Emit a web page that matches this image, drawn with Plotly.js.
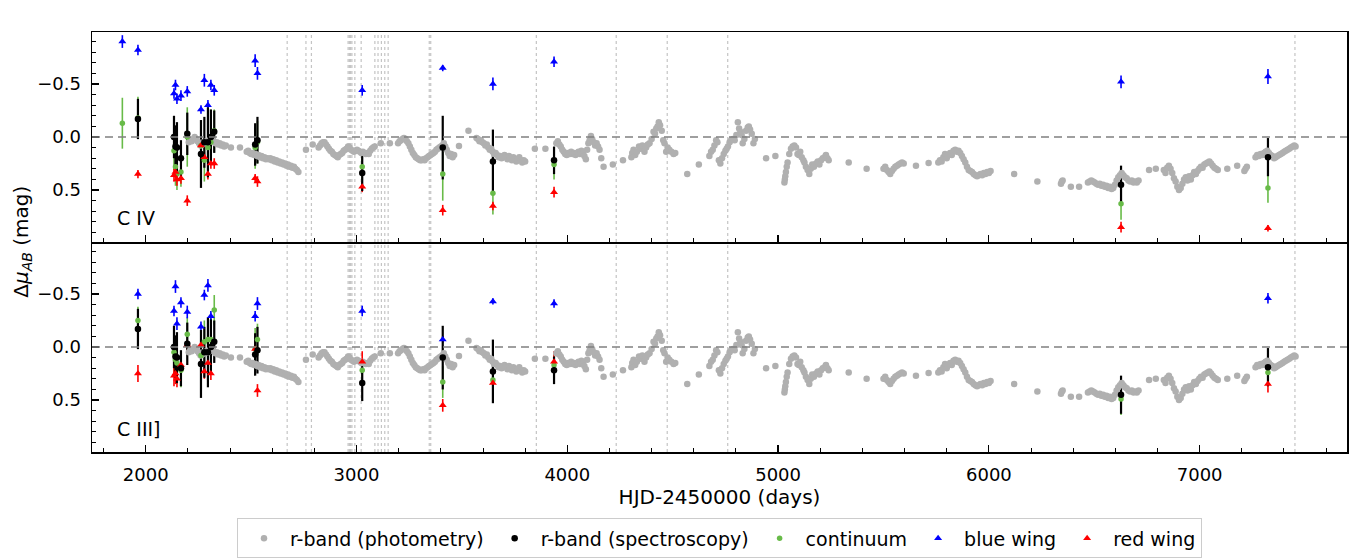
<!DOCTYPE html>
<html><head><meta charset="utf-8">
<script src="https://cdn.plot.ly/plotly-3.0.1.min.js"></script>
<style>html,body{margin:0;padding:0;background:#fff}#chart{width:1360px;height:560px}</style>
</head><body><div id="chart"></div>
<script>
// ---------- r-band photometry (same in both panels) ----------
const photHJD = [
2204,2211,2218,2225,2232,2239,2246,2253,2260,2267,2274,2281,2288,2295,2302,2309,2316,2323,2330,2337,2344,2351,2358,2365,2372,2380,
2404,2447,
2479,2486,2493,2500,2507,2514,2521,2528,2535,2542,2549,2556,2563,2570,2577,2584,2591,2598,2605,2612,2619,2626,2633,2640,2647,2654,2661,2668,2675,2682,2689,2696,2703,2710,2717,2724,
2760,2792,
2820,2827,2834,2841,2848,2855,2862,2869,2876,2883,2890,2897,2904,2911,2918,2925,2932,2939,2946,2953,2960,2967,2974,2981,2988,2995,3002,3009,3016,3023,3030,3037,3044,3051,3058,3065,3072,3079,3086,
3115,3158,
3197,3204,3211,3218,3225,3232,3239,3246,3253,3260,3267,3274,3281,3288,3295,3302,3309,3316,3323,3330,3337,3344,3351,3358,3365,3372,3379,3386,3393,3400,3407,3414,3421,3428,3435,3442,3449,3456,3463,
3486,3531,
3569,3576,3583,3590,3597,3604,3611,3618,3625,3632,3639,3646,3653,3660,3667,3674,3681,3688,3695,3702,3709,3716,3723,3730,3737,3744,3751,3758,3765,3772,3779,3786,3793,3800,
3846,3896,
3948,3955,3962,3969,3976,3983,3990,3997,4004,4011,4018,4025,4032,4039,4046,4053,4060,4067,4074,4081,4088,4094,4100,4106,4112,4118,4125,4132,4139,4146,4153,4161,4172,
4216,4264,
4304,4308,4314,4322,4330,4340,4348,4356,4366,4374,4382,4390,4400,4409,4416,4422,4428,4434,4440,4448,4455,4461,4469,4476,4484,4494,4504,4512,
4569,4624,
4674,4682,4690,4698,4706,4712,4719,4726,4734,4742,4750,4756,4762,4770,4777,4786,4794,4802,4809,4815,4821,4827,4832,4840,4848,4856,4861,4867,4875,4883,4890,
4943,4987,
5030,5032,5034,5037,5041,5045,5053,5061,5069,5077,5085,5092,5098,5105,5112,5120,5125,5132,5140,5148,5155,5162,5170,5180,5188,5196,5204,5212,5220,5227,5234,5240,
5335,5420,
5500,5508,5516,5524,5532,5540,5548,5556,5564,5572,5580,5588,5596,
5654,5714,
5760,5768,5776,5784,5792,5800,5808,5816,5824,5832,5840,5848,5856,5864,5872,5880,5888,5896,5904,5912,5920,5928,5936,5944,5952,5960,5968,5976,5984,5992,6000,6008,
6120,6230,
6342,6346,6350,6389,6428,
6470,6478,6486,6494,6502,6510,6518,6526,6534,6542,6550,6558,6566,6574,6582,6590,6598,6606,6614,6622,6630,6638,6646,6654,6662,6670,6678,6686,6694,6702,6710,
6760,6792,
6830,6838,6846,6854,6862,6870,6878,6886,6894,6902,6910,6918,6926,6934,6942,6950,6958,6966,6974,6982,6990,6998,7006,7014,7022,7030,7038,7046,7054,7062,7070,7078,7086,
7131,7178,7212,7218,7224,
7265,7273,7281,7289,7297,7305,7313,7321,7329,7337,7345,7353,7361,7369,7377,7385,7393,7401,7409,7417,7425,7433,7441,7449,7455
];
const photMag = [
0.05,0.03,0.04,0.02,0.00,0.02,0.04,0.06,0.08,0.07,0.05,0.06,0.04,0.05,0.03,0.02,0.03,0.04,0.06,0.05,0.07,0.06,0.08,0.07,0.09,0.08,
0.10,0.10,
0.14,0.13,0.15,0.16,0.15,0.17,0.16,0.18,0.17,0.19,0.18,0.20,0.19,0.21,0.20,0.21,0.20,0.22,0.21,0.23,0.22,0.24,0.23,0.25,0.24,0.26,0.25,0.27,0.26,0.28,0.27,0.29,0.28,0.30,0.31,0.33,
0.12,0.07,
0.10,0.08,0.06,0.05,0.05,0.07,0.09,0.11,0.13,0.14,0.16,0.17,0.18,0.19,0.17,0.16,0.15,0.13,0.12,0.11,0.09,0.10,0.12,0.13,0.14,0.13,0.12,0.13,0.14,0.15,0.14,0.15,0.16,0.15,0.16,0.13,0.11,0.10,0.09,
0.06,0.06,
0.06,0.04,0.03,0.02,0.01,0.02,0.04,0.06,0.09,0.12,0.15,0.17,0.19,0.20,0.21,0.22,0.22,0.21,0.22,0.20,0.19,0.18,0.17,0.16,0.15,0.14,0.12,0.11,0.10,0.09,0.08,0.06,0.09,0.12,0.15,0.18,0.16,0.19,0.17,
0.085,-0.06,
0.01,0.02,0.04,0.03,0.05,0.06,0.08,0.07,0.10,0.12,0.11,0.14,0.16,0.15,0.17,0.19,0.18,0.20,0.19,0.17,0.19,0.21,0.18,0.20,0.22,0.19,0.21,0.23,0.21,0.19,0.22,0.24,0.22,0.23,
0.11,0.11,
0.06,0.04,0.07,0.09,0.12,0.14,0.16,0.17,0.15,0.16,0.14,0.16,0.15,0.17,0.15,0.14,0.16,0.13,0.15,0.18,0.21,0.12,0.06,0.03,-0.01,0.02,0.05,0.08,0.06,0.09,0.12,0.20,0.28,
0.26,0.22,
0.19,0.15,0.12,0.17,0.14,0.09,0.11,0.08,0.14,0.10,0.07,0.06,0.02,-0.05,-0.03,-0.08,-0.10,-0.14,-0.11,-0.06,0.03,0.06,0.14,0.10,0.12,0.14,0.16,0.15,
0.35,0.26,
0.18,0.14,0.12,0.08,0.03,0.05,0.22,0.25,0.20,0.16,0.13,0.11,0.09,0.05,0.03,0.02,0.03,-0.02,-0.14,-0.08,-0.05,-0.02,0.06,0.02,-0.06,-0.09,-0.10,-0.07,-0.03,0.06,0.02,
0.20,0.18,
0.43,0.40,0.37,0.33,0.28,0.24,0.16,0.11,0.09,0.08,0.10,0.16,0.17,0.14,0.19,0.22,0.24,0.28,0.31,0.35,0.30,0.26,0.28,0.25,0.23,0.26,0.22,0.20,0.19,0.17,0.20,0.22,
0.24,0.30,
0.30,0.28,0.31,0.33,0.35,0.32,0.30,0.28,0.27,0.26,0.25,0.24,0.25,
0.27,0.245,
0.24,0.22,0.23,0.19,0.16,0.20,0.17,0.15,0.17,0.13,0.12,0.14,0.13,0.15,0.18,0.21,0.24,0.28,0.31,0.32,0.33,0.35,0.36,0.37,0.36,0.35,0.36,0.34,0.35,0.33,0.34,0.32,
0.35,0.42,
0.44,0.42,0.41,0.47,0.47,
0.43,0.42,0.41,0.42,0.43,0.44,0.45,0.44,0.46,0.45,0.47,0.46,0.48,0.47,0.49,0.48,0.45,0.41,0.38,0.36,0.34,0.36,0.38,0.39,0.41,0.42,0.41,0.43,0.42,0.43,0.41,
0.31,0.30,
0.31,0.34,0.29,0.27,0.30,0.34,0.39,0.42,0.47,0.50,0.48,0.44,0.40,0.38,0.41,0.37,0.40,0.36,0.33,0.35,0.32,0.30,0.28,0.29,0.26,0.25,0.24,0.23,0.25,0.27,0.29,0.30,0.31,
0.30,0.27,0.32,0.30,0.28,
0.19,0.17,0.18,0.16,0.17,0.15,0.14,0.13,0.15,0.17,0.18,0.20,0.19,0.18,0.17,0.16,0.15,0.14,0.13,0.12,0.11,0.10,0.09,0.08,0.09
];

// ---------- r-band spectroscopy (same in both panels) ----------
const specHJD = [1963,2134,2141,2148,2167,2197,2262,2278,2295,2309,2325,2519,2530,3027,3409,3647,3937,6627,7324];
const specMag = [-0.17,0.00,0.09,0.10,0.20,-0.03,0.16,0.05,0.05,0.00,-0.05,0.07,0.03,0.34,0.10,0.23,0.22,0.45,0.19];
const specErr = [0.19,0.20,0.20,0.24,0.17,0.20,0.32,0.24,0.33,0.26,0.20,0.20,0.22,0.17,0.30,0.30,0.13,0.18,0.18];

// ---------- C IV panel ----------
const contC4HJD = [1889,1963,2134,2141,2148,2167,2197,2262,2278,2295,2309,2325,2519,2530,3027,3409,3647,3937,6627,7324];
const contC4Mag = [-0.13,-0.18,0.13,0.28,0.35,0.33,0.00,0.08,0.22,0.10,0.05,-0.06,0.10,0.05,0.28,0.35,0.53,0.26,0.63,0.48];
const contC4Err = [0.24,0.20,0.18,0.18,0.15,0.14,0.28,0.20,0.20,0.22,0.20,0.20,0.20,0.20,0.12,0.25,0.20,0.14,0.15,0.14];
const blueC4HJD = [1889,1963,2134,2141,2148,2167,2197,2262,2278,2295,2309,2325,2519,2530,3027,3409,3647,3937,6627,7324];
const blueC4Mag = [-0.90,-0.82,-0.41,-0.49,-0.36,-0.39,-0.43,-0.26,-0.535,-0.30,-0.49,-0.44,-0.72,-0.60,-0.44,-0.65,-0.50,-0.71,-0.52,-0.57];
const blueC4Err = [0.06,0.05,0.05,0.05,0.05,0.05,0.05,0.04,0.06,0.05,0.05,0.05,0.06,0.06,0.05,0.03,0.06,0.05,0.06,0.07];
const redC4HJD = [1963,2134,2141,2148,2167,2197,2262,2278,2295,2309,2325,2519,2530,3027,3409,3647,3937,6627,7324];
const redC4Mag = [0.35,0.36,0.33,0.40,0.39,0.60,0.08,0.19,0.35,0.25,0.25,0.39,0.42,0.47,0.69,0.65,0.52,0.85,0.86];
const redC4Err = [0.04,0.06,0.06,0.06,0.05,0.05,0.05,0.05,0.05,0.05,0.05,0.04,0.05,0.05,0.05,0.04,0.05,0.05,0.03];

// ---------- C III] panel ----------
const contC3HJD = [1963,2134,2141,2148,2167,2197,2262,2278,2295,2309,2325,2519,2530,3027,3409,3647,3937,6627,7324];
const contC3Mag = [-0.25,0.05,0.12,0.15,0.22,-0.12,0.08,-0.05,-0.07,-0.07,-0.35,0.02,-0.07,0.22,0.33,0.31,0.17,0.49,0.24];
const contC3Err = [0.13,0.20,0.20,0.20,0.16,0.16,0.20,0.20,0.20,0.20,0.14,0.20,0.15,0.10,0.15,0.15,0.10,0.15,0.12];
const blueC3HJD = [1963,2134,2141,2148,2167,2197,2262,2278,2295,2309,2519,2530,3027,3409,3647,3937,7324];
const blueC3Mag = [-0.50,-0.34,-0.57,-0.22,-0.42,-0.33,-0.19,-0.49,-0.58,-0.29,-0.29,-0.41,-0.34,-0.07,-0.43,-0.41,-0.46];
const blueC3Err = [0.05,0.05,0.06,0.06,0.05,0.06,0.05,0.05,0.06,0.05,0.05,0.06,0.05,0.03,0.03,0.04,0.05];
const redC3HJD = [1963,2134,2141,2148,2167,2197,2262,2278,2295,2309,2519,2530,3027,3409,3647,3937,7324];
const redC3Mag = [0.25,0.27,0.25,0.30,0.17,-0.02,-0.02,0.23,0.15,0.25,0.02,0.41,0.14,0.55,0.34,0.14,0.35];
const redC3Err = [0.08,0.10,0.10,0.08,0.08,0.05,0.06,0.07,0.07,0.06,0.06,0.06,0.10,0.06,0.06,0.10,0.08];

// ---------- epochs marked with dotted lines ----------
const markHJD = [2671,2760,2786,2960,2966,2972,2978,2992,3022,3087,3102,3118,3134,3150,3345,3352,3853,4232,4474,4761,7452];

// ---------- top axis calendar years ----------
const yearLabels = [2002,2004,2006,2008,2010,2012,2014,2016];
const yearHJD = yearLabels.map(y => Date.UTC(y,0,1)/86400000 + 2440587.5 - 2450000);

const FONT = 'DejaVu Sans';
const GRAY = '#b0b0b0', GREEN = '#68bb48', BLUE = '#0000ff', RED = '#ff0000', BLACK = '#000000';

function bars(x, y, err, color, thick, xa, ya) {
  return {type:'scatter', mode:'markers', x:x, y:y, xaxis:xa, yaxis:ya,
    marker:{size:2, opacity:0}, showlegend:false, hoverinfo:'skip',
    error_y:{type:'data', array:err, visible:true, color:color, thickness:thick, width:0}};
}
function marks(x, y, name, symbol, color, size, xa, ya, show, rank) {
  return {type:'scatter', mode:'markers', x:x, y:y, xaxis:xa, yaxis:ya, name:name,
    legendgroup:name, showlegend:show, legendrank:rank,
    marker:{symbol:symbol, color:color, size:size, line:{width:0}}};
}

const traces = [];
const panels = [
  ['x2','y', [contC4HJD,contC4Mag,contC4Err],[blueC4HJD,blueC4Mag,blueC4Err],[redC4HJD,redC4Mag,redC4Err], true],
  ['x','y2', [contC3HJD,contC3Mag,contC3Err],[blueC3HJD,blueC3Mag,blueC3Err],[redC3HJD,redC3Mag,redC3Err], false]
];
panels.forEach(p => {
  const [xa, ya, c, b, r, show] = p;
  traces.push(bars(c[0], c[1], c[2], GREEN, 1.6, xa, ya));
  traces.push(bars(b[0], b[1], b[2], BLUE, 1.6, xa, ya));
  traces.push(bars(r[0], r[1], r[2], RED, 1.6, xa, ya));
  traces.push(bars(specHJD, specMag, specErr, BLACK, 2.2, xa, ya));
  traces.push(marks(photHJD, photMag, 'r-band (photometry)', 'circle', GRAY, 6.5, xa, ya, show, 1));
  traces.push(marks(c[0], c[1], 'continuum', 'circle', GREEN, 5.5, xa, ya, show, 3));
  traces.push(marks(b[0], b[1], 'blue wing', 'triangle-up', BLUE, 7, xa, ya, show, 4));
  traces.push(marks(r[0], r[1], 'red wing', 'triangle-up', RED, 7, xa, ya, show, 5));
  traces.push(marks(specHJD, specMag, 'r-band (spectroscopy)', 'circle', BLACK, 6.5, xa, ya, show, 2));
});

const XR = [1745, 7699];
const tickFont = {family:FONT, size:18, color:'#000'};
const yax = (dom, anchor) => ({domain:dom, anchor:anchor, range:[0.99,-0.99], tickmode:'linear', tick0:0, dtick:0.5,
  tickformat:'.1f', ticks:'inside', ticklen:7, tickwidth:1.2, tickcolor:'#000', ticklabelstandoff:6,
  minor:{ticks:'inside', dtick:0.1, tick0:0, ticklen:4, tickwidth:1, tickcolor:'#000', showgrid:false},
  showline:true, mirror:true, linecolor:'#000', linewidth:1.5, showgrid:false, zeroline:false, tickfont:tickFont});

const shapes = [];
markHJD.forEach(h => shapes.push({type:'line', xref:'x', yref:'paper', x0:h, x1:h, y0:0, y1:1, layer:'below',
  line:{color:'#c4c4c4', width:1.2, dash:'dot'}}));
['y','y2'].forEach(ya => shapes.push({type:'line', xref:'paper', yref:ya, x0:0, x1:1, y0:0, y1:0, layer:'above',
  line:{color:'#808080', width:1.5, dash:'8px,5px'}}));

const layout = {
  width:1360, height:560, paper_bgcolor:'#fff', plot_bgcolor:'rgba(0,0,0,0)',
  margin:{l:92, r:13, t:32, b:108, autoexpand:false},
  font:{family:FONT, size:18, color:'#000'},
  showlegend:true,
  legend:{orientation:'h', x:0.5, xanchor:'center', y:-0.158, yanchor:'top', bgcolor:'#fff',
    bordercolor:'#cccccc', borderwidth:1, font:{family:FONT, size:19, color:'#000'}, traceorder:'normal', itemwidth:42},
  xaxis:{anchor:'y2', domain:[0,1], range:XR, tickmode:'linear', tick0:0, dtick:1000, ticks:'inside', ticklen:7,
    tickwidth:1.2, tickcolor:'#000', ticklabelstandoff:6,
    minor:{ticks:'inside', dtick:200, tick0:0, ticklen:4, tickwidth:1, tickcolor:'#000', showgrid:false},
    showline:true, mirror:false, linecolor:'#000', linewidth:1.5, showgrid:false, zeroline:false, tickfont:tickFont,
    title:{text:'HJD-2450000 (days)', font:{family:FONT, size:20, color:'#000'}, standoff:4}},
  xaxis2:{anchor:'y', domain:[0,1], matches:'x', range:XR, tickmode:'linear', tick0:0, dtick:1000, ticks:'inside', ticklen:7,
    tickwidth:1.2, tickcolor:'#000', showticklabels:false,
    minor:{ticks:'inside', dtick:200, tick0:0, ticklen:4, tickwidth:1, tickcolor:'#000', showgrid:false},
    showline:true, mirror:true, linecolor:'#000', linewidth:1.5, showgrid:false, zeroline:false},
  xaxis3:{overlaying:'x2', anchor:'y', side:'top', range:XR, tickmode:'array', tickvals:yearHJD, ticktext:yearLabels.map(String),
    ticks:'outside', ticklen:6, tickwidth:1.2, tickcolor:'#000', showline:false, showgrid:false, zeroline:false, tickfont:tickFont},
  yaxis:yax([0.5,1],'x2'),
  yaxis2:yax([0,0.5],'x'),
  shapes:shapes,
  annotations:[
    {text:'C IV', xref:'paper', yref:'y domain', x:0.018, y:0.115, xanchor:'left', yanchor:'middle', showarrow:false,
     font:{family:FONT, size:19, color:'#000'}},
    {text:'C III]', xref:'paper', yref:'y2 domain', x:0.018, y:0.108, xanchor:'left', yanchor:'middle', showarrow:false,
     font:{family:FONT, size:19, color:'#000'}},
    {text:'Δ<i>μ</i><sub><i>AB</i></sub> (mag)', xref:'paper', yref:'paper', x:-0.056, y:0.5, xanchor:'center', yanchor:'middle',
     textangle:-90, showarrow:false, font:{family:FONT, size:20, color:'#000'}}
  ]
};

Plotly.newPlot('chart', traces, layout, {displayModeBar:false, staticPlot:true});
</script>
</body></html>
